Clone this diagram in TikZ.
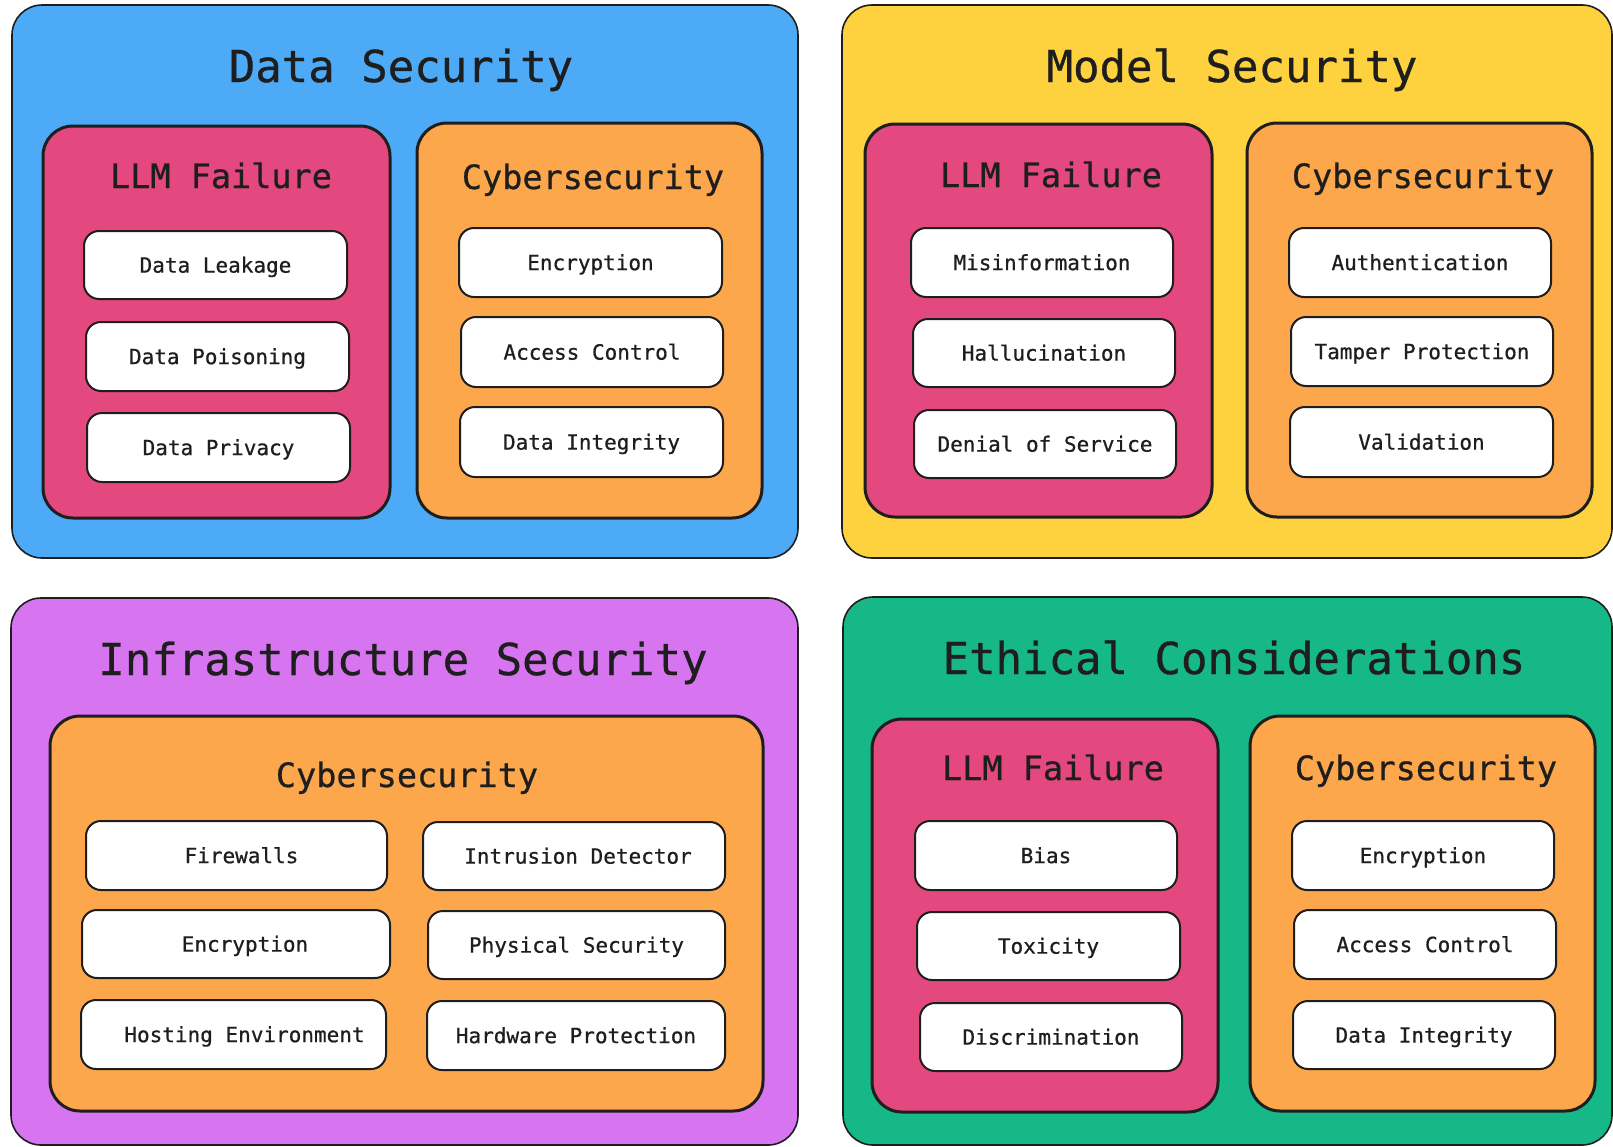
\documentclass[tikz,border=0pt]{standalone}
\usepackage{fontspec}
\newfontfamily\diagmono[FakeBold=0.7]{DejaVu Sans Mono}

\definecolor{ink}{HTML}{1E1E1E}
\definecolor{dsblue}{HTML}{4DAAF7}
\definecolor{msyellow}{HTML}{FDD23E}
\definecolor{isviolet}{HTML}{D775F0}
\definecolor{ecgreen}{HTML}{17B887}
\definecolor{llmpink}{HTML}{E3487F}
\definecolor{cyborange}{HTML}{FCA74B}

\tikzset{
  boxsize/.style 2 args={minimum width=#1pt, minimum height=#2pt, inner sep=0pt},
  panel/.style={draw=ink, line width=1.6pt, rounded corners=30pt},
  group/.style={draw=ink, line width=3pt, rounded corners=30pt},
  item/.style={draw=ink, line width=2pt, rounded corners=15pt, fill=white,
    text=ink, font=\diagmono\fontsize{21}{25}\selectfont,
    text height=15.3pt, text depth=0pt},
  paneltitle/.style={anchor=base, text=ink, inner sep=0pt,
    font=\diagmono\fontsize{44}{50}\selectfont},
  grouptitle/.style={anchor=base, text=ink, inner sep=0pt,
    font=\diagmono\fontsize{33.5}{38}\selectfont},
}

\begin{document}
\begin{tikzpicture}[x=1pt, y=-1pt]
\path[use as bounding box, fill=white] (0,0) rectangle (1613,1146);

% ---------- Data Security ----------
\node[panel, fill=dsblue, boxsize={786}{553}] (ds) at (405,281.5) {};
\node[paneltitle] (ds-t) at (401,82) {Data Security};
\node[group, fill=llmpink, boxsize={347}{392}] (ds-llm) at (216.5,322) {};
\node[grouptitle] (ds-llm-t) at (221,188) {LLM Failure};
\node[item, boxsize={263}{68}] (ds-l1) at (215.5,265) {Data Leakage};
\node[item, boxsize={263}{69}] (ds-l2) at (217.5,356.5) {Data Poisoning};
\node[item, boxsize={263}{69}] (ds-l3) at (218.5,447.5) {Data Privacy};
\node[group, fill=cyborange, boxsize={345}{395}] (ds-cyb) at (589.5,320.5) {};
\node[grouptitle] (ds-cyb-t) at (593,189) {Cybersecurity};
\node[item, boxsize={263}{69}] (ds-c1) at (590.5,262.5) {Encryption};
\node[item, boxsize={262}{70}] (ds-c2) at (592,352) {Access Control};
\node[item, boxsize={263}{70}] (ds-c3) at (591.5,442) {Data Integrity};

% ---------- Model Security ----------
\node[panel, fill=msyellow, boxsize={770}{553}] (ms) at (1227,281.5) {};
\node[paneltitle] (ms-t) at (1232,82) {Model Security};
\node[group, fill=llmpink, boxsize={347}{393}] (ms-llm) at (1038.5,320.5) {};
\node[grouptitle] (ms-llm-t) at (1051,187) {LLM Failure};
\node[item, boxsize={262}{69}] (ms-l1) at (1042,262.5) {Misinformation};
\node[item, boxsize={262}{68}] (ms-l2) at (1044,353) {Hallucination};
\node[item, boxsize={262}{68}] (ms-l3) at (1045,444) {Denial of Service};
\node[group, fill=cyborange, boxsize={345}{394}] (ms-cyb) at (1419.5,320) {};
\node[grouptitle] (ms-cyb-t) at (1423,188) {Cybersecurity};
\node[item, boxsize={262}{69}] (ms-c1) at (1420,262.5) {Authentication};
\node[item, boxsize={262}{69}] (ms-c2) at (1422,351.5) {Tamper Protection};
\node[item, boxsize={263}{70}] (ms-c3) at (1421.5,442) {Validation};

% ---------- Infrastructure Security ----------
\node[panel, fill=isviolet, boxsize={787}{547}] (is) at (404.5,871.5) {};
\node[paneltitle] (is-t) at (403,675) {Infrastructure Security};
\node[group, fill=cyborange, boxsize={713}{395}] (is-cyb) at (406.5,913.5) {};
\node[grouptitle] (is-cyb-t) at (407,787) {Cybersecurity};
\node[item, boxsize={301}{69}] (is-c1) at (236.5,855.5) {\hspace*{10pt}Firewalls};
\node[item, boxsize={302}{68}] (is-c2) at (574,856) {\hspace*{8pt}Intrusion Detector};
\node[item, boxsize={308}{68}] (is-c3) at (236,944) {\hspace*{18pt}Encryption};
\node[item, boxsize={297}{68}] (is-c4) at (576.5,945) {Physical Security};
\node[item, boxsize={305}{69}] (is-c5) at (233.5,1034.5) {\hspace*{22pt}Hosting Environment};
\node[item, boxsize={298}{69}] (is-c6) at (576,1035.5) {Hardware Protection};

% ---------- Ethical Considerations ----------
\node[panel, fill=ecgreen, boxsize={769}{548}] (ec) at (1227.5,871) {};
\node[paneltitle] (ec-t) at (1234,674) {Ethical Considerations};
\node[group, fill=llmpink, boxsize={346}{393}] (ec-llm) at (1045,915.5) {};
\node[grouptitle] (ec-llm-t) at (1053,780) {LLM Failure};
\node[item, boxsize={262}{69}] (ec-l1) at (1046,855.5) {Bias};
\node[item, boxsize={263}{68}] (ec-l2) at (1048.5,946) {Toxicity};
\node[item, boxsize={262}{68}] (ec-l3) at (1051,1037) {Discrimination};
\node[group, fill=cyborange, boxsize={345}{395}] (ec-cyb) at (1422.5,913.5) {};
\node[grouptitle] (ec-cyb-t) at (1426,780) {Cybersecurity};
\node[item, boxsize={262}{69}] (ec-c1) at (1423,855.5) {Encryption};
\node[item, boxsize={262}{69}] (ec-c2) at (1425,944.5) {Access Control};
\node[item, boxsize={262}{68}] (ec-c3) at (1424,1035) {Data Integrity};
\end{tikzpicture}
\end{document}
